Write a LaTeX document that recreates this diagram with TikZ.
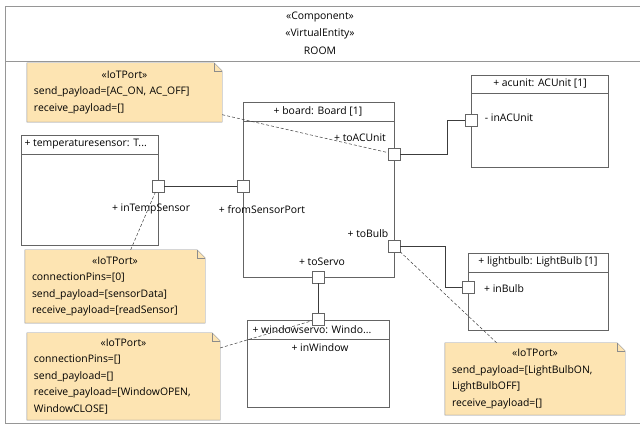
\documentclass[tikz,border=0pt]{standalone}
\usepackage{fontspec}
\setmainfont{Open Sans}
\definecolor{notefill}{RGB}{253,228,178}
\definecolor{noteline}{RGB}{140,140,140}
\definecolor{partline}{RGB}{100,100,100}
\definecolor{wireline}{RGB}{60,60,60}
\definecolor{framegray}{RGB}{150,150,150}

\begin{document}
\begin{tikzpicture}
        [
            x = 1pt, y = -1pt,
            font = \fontsize{10.4}{16.5}\selectfont,
            part/.style = {draw=partline, fill=white, inner sep=0pt, anchor=north west, line width=0.6pt},
            port/.style = {draw=partline, fill=white, minimum size=12pt, inner sep=0pt, line width=0.6pt},
            iotnote/.style = {fill=notefill, text width=#1, inner xsep=7pt, inner ysep=0pt, align=left},
            wire/.style = {draw=wireline, line width=0.8pt},
            link/.style = {draw=wireline, densely dashed, line width=0.5pt},
        ]
        \useasboundingbox (0,0) rectangle (640,427);
        % room frame
        \draw[framegray] (650,6) -| (5,423) -- (650,423);
        \draw[framegray, line width=1pt] (5,62) -- (650,62);
        \node (stereocomp) at (320,17) {«Component»};
        \node (stereove) at (320,34) {«VirtualEntity»};
        \node (roomname) at (320,51) {ROOM};

        % parts
        \node[part, minimum width=151pt, minimum height=175pt] (board) at (243,102) {};
        \node[part, minimum width=137pt, minimum height=92pt] (acunit) at (471,75) {};
        \node[part, minimum width=137pt, minimum height=110pt] (tempsensor) at (21,135) {};
        \node[part, minimum width=140pt, minimum height=77pt] (lightbulb) at (468,253) {};
        \node[part, minimum width=142pt, minimum height=87pt] (windowservo) at (247,320) {};
        \foreach \p/\h in {board/19, acunit/18, tempsensor/19, lightbulb/19, windowservo/19}
            \draw[partline] ([yshift=-\h pt]\p.north west) -- ([yshift=-\h pt]\p.north east);
        \node (boardtitle) at (318,111) {+ board: Board [1]};
        \node (acunittitle) at (540,84) {+ acunit: ACUnit [1]};
        \node[anchor=west] (temptitle) at (21,144) {+ temperaturesensor: T...};
        \node (bulbtitle) at (538,262) {+ lightbulb: LightBulb [1]};
        \node[anchor=west] (servotitle) at (249,330) {+ windowservo: Windo...};

        % notes
        \node[iotnote=181pt, minimum height=59pt] (noteac) at (124.5,92.5) {
            {\centering «IoTPort»\par}
            send\_payload=[AC\_ON, AC\_OFF]\\
            receive\_payload=[]};
        \node[iotnote=166pt, minimum height=73pt] (notetemp) at (115,286.5) {
            {\centering «IoTPort»\par}
            connectionPins=[0]\\
            send\_payload=[sensorData]\\
            receive\_payload=[readSensor]};
        \node[iotnote=179pt, minimum height=87pt] (notewin) at (123.5,376.5) {
            {\centering «IoTPort»\par}
            connectionPins=[]\\
            send\_payload=[]\\
            receive\_payload=[WindowOPEN,\\
            WindowCLOSE]};
        \node[iotnote=166pt, minimum height=72pt] (notebulb) at (535,379) {
            {\centering «IoTPort»\par}
            send\_payload=[LightBulbON,\\
            LightBulbOFF]\\
            receive\_payload=[]};
        \foreach \n in {noteac, notetemp, notewin, notebulb} {
            \fill[white] ([xshift=-8pt]\n.north east) -- (\n.north east) -- ([yshift=-8pt]\n.north east) -- cycle;
            \draw[noteline] (\n.north west) -- ([xshift=-8pt]\n.north east) -- ([yshift=-8pt]\n.north east)
                -- (\n.south east) -- (\n.south west) -- cycle;
            \draw[noteline] ([xshift=-8pt]\n.north east) -- ([xshift=-8pt,yshift=-8pt]\n.north east) -- ([yshift=-8pt]\n.north east);
        }

        % ports
        \node[port] (toacunit) at (394,154) {};
        \node[port] (fromsensor) at (243,186) {};
        \node[port] (tobulb) at (394,246) {};
        \node[port] (toservo) at (318,277) {};
        \node[port] (intemp) at (158,186) {};
        \node[port] (inacunit) at (471,120) {};
        \node[port] (inbulb) at (468,287) {};
        \node[port] (inwindow) at (318,319) {};

        \node (toacunitlabel) at (360,138) {+ toACUnit};
        \node (fromsensorlabel) at (262,210) {+ fromSensorPort};
        \node (tobulblabel) at (368,234) {+ toBulb};
        \node (toservolabel) at (322,262) {+ toServo};
        \node (intemplabel) at (151,209) {+ inTempSensor};
        \node (inacunitlabel) at (509,118) {- inACUnit};
        \node (inbulblabel) at (504,289) {+ inBulb};
        \node (inwindowlabel) at (320,348) {+ inWindow};

        % connectors
        \draw[wire] (intemp) -- (fromsensor);
        \draw[wire] (toacunit.east) -- ++(47,0) |- (inacunit.west);
        \draw[wire] (tobulb.east) -- ++(45,0) |- (inbulb.west);
        \draw[wire] (toservo) -- (inwindow);

        % note links
        \draw[link] (noteac) -- (toacunit);
        \draw[link] (notetemp) -- (intemp);
        \draw[link] (notewin) -- (inwindow);
        \draw[link] (notebulb) -- (tobulb);
\end{tikzpicture}
\end{document}
